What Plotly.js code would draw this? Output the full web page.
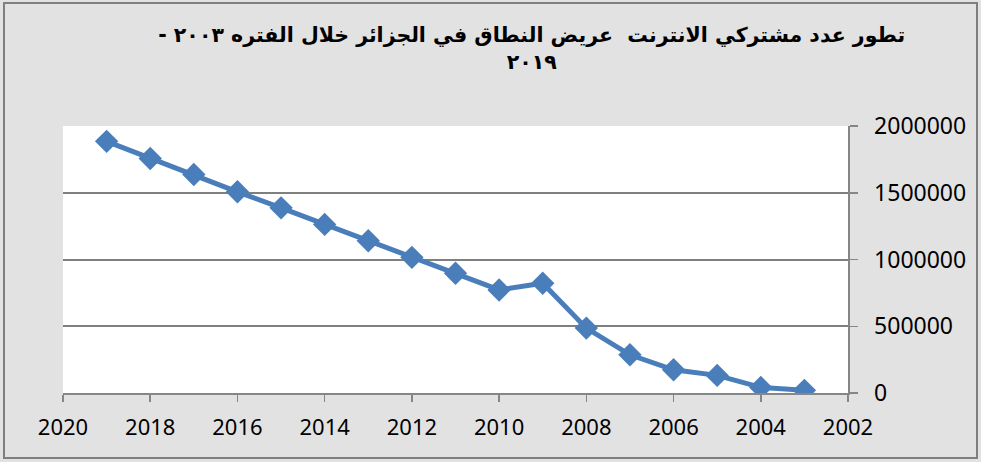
<!DOCTYPE html>
<html>
<head>
<meta charset="utf-8">
<script src="https://cdn.plot.ly/plotly-3.0.1.min.js"></script>
<style>
html,body{margin:0;padding:0;background:#ffffff;}
#chart{width:981px;height:462px;}
</style>
</head>
<body>
<div id="chart"></div>
<script>
// Data
const years = [2019, 2018, 2017, 2016, 2015, 2014, 2013, 2012, 2011, 2010, 2009, 2008, 2007, 2006, 2005, 2004, 2003];
const subscribers = [1885000, 1756000, 1637000, 1507000, 1387000, 1263000, 1141000, 1016000, 897000, 772000, 822000, 486000, 286000, 174000, 132000, 42000, 20000];
const xTickVals = [2020, 2018, 2016, 2014, 2012, 2010, 2008, 2006, 2004, 2002];
const yTickVals = [0, 500000, 1000000, 1500000, 2000000];
const titleLine1 = "\u200Fتطور عدد مشتركي الانترنت  عريض النطاق في الجزائر خلال الفتره ٢٠٠٣ -\u200F";
const titleLine2 = "\u200F٢٠١٩\u200F";

const trace = {
  x: years,
  y: subscribers,
  type: 'scatter',
  mode: 'lines+markers',
  line: {color: '#4A7EBB', width: 5},
  marker: {symbol: 'diamond', size: 18, color: '#4A7EBB'},
  hoverinfo: 'x+y'
};

const layout = {
  width: 981,
  height: 462,
  margin: {l: 63, r: 133, t: 126, b: 69},
  paper_bgcolor: '#e2e2e2',
  plot_bgcolor: '#ffffff',
  showlegend: false,
  title: {
    text: titleLine1 + '<br>' + titleLine2,
    font: {family: 'DejaVu Sans', size: 20.5, color: '#000000', weight: 'bold'},
    x: 0.542, xanchor: 'center',
    y: 1 - 42/462, yanchor: 'top'
  },
  xaxis: {
    range: [2020, 2002],
    tickvals: xTickVals,
    ticktext: xTickVals.map(String),
    showgrid: false,
    zeroline: false,
    showline: true,
    linecolor: '#868686',
    linewidth: 1.5,
    ticks: 'outside',
    ticklen: 7,
    tickwidth: 1.5,
    tickcolor: '#868686',
    tickfont: {family: 'Noto Sans', size: 22, color: '#000000'},
    ticklabelstandoff: 7
  },
  yaxis: {
    side: 'right',
    range: [0, 2000000],
    tickvals: yTickVals,
    ticktext: yTickVals.map(String),
    showgrid: true,
    gridcolor: '#7f7f7f',
    gridwidth: 2,
    zeroline: false,
    showline: true,
    linecolor: '#868686',
    linewidth: 1.5,
    ticks: 'outside',
    ticklen: 8,
    tickwidth: 1.5,
    tickcolor: '#868686',
    tickfont: {family: 'Noto Sans', size: 23, color: '#000000'},
    ticklabelstandoff: 12
  },
  shapes: [{
    type: 'rect', xref: 'paper', yref: 'paper',
    x0: (4 - 63) / 785, x1: (977 - 63) / 785,
    y0: (393 - 458) / 267, y1: (393 - 3) / 267,
    line: {color: '#7f7f7f', width: 2},
    fillcolor: 'rgba(0,0,0,0)',
    layer: 'below'
  }]
};

Plotly.newPlot('chart', [trace], layout, {displayModeBar: false, staticPlot: true});
</script>
</body>
</html>
